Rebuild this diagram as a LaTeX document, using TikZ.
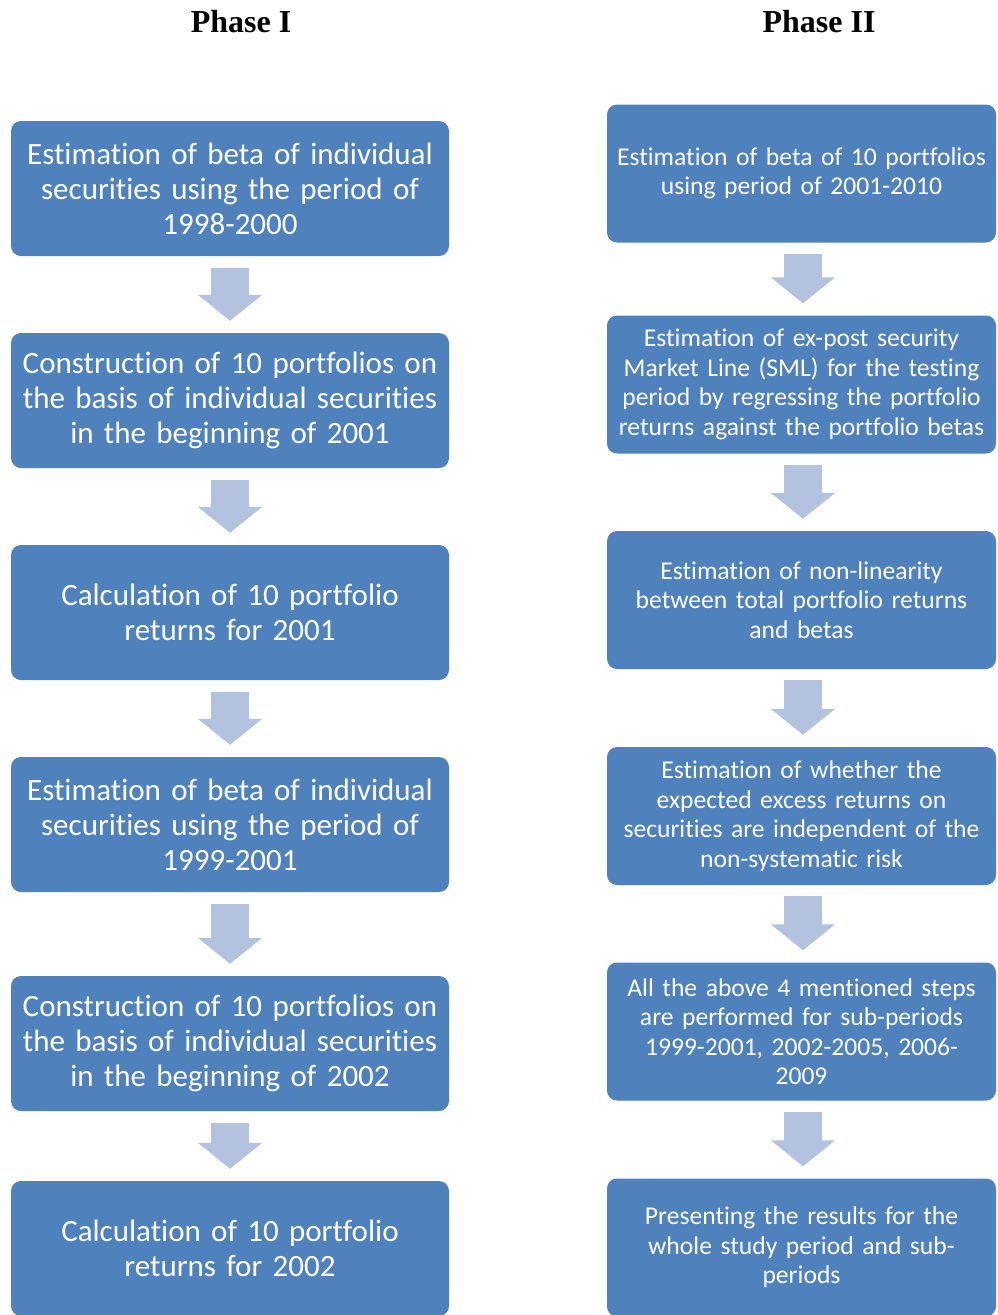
\documentclass[tikz,border=0pt]{standalone}
\usepackage{fontspec}
\setmainfont{Carlito}[Ligatures=NoCommon]
\newfontfamily\titlefont{Liberation Serif}
\usetikzlibrary{arrows.meta}

\definecolor{stepblue}{HTML}{4F81BD}
\definecolor{arrowblue}{HTML}{B3C3DF}

\begin{document}
\begin{tikzpicture}[x=1pt,y=-1pt,
  phase/.style={font=\titlefont\bfseries\fontsize{32}{36}\selectfont},
  stepbox/.style={fill=stepblue, rounded corners=10pt, text=white, align=center, inner sep=0pt},
  leftbox/.style={stepbox, minimum width=438pt, minimum height=135pt, text width=436pt,
                  font=\fontsize{31}{35}\selectfont},
  rightbox/.style={stepbox, minimum width=389pt, minimum height=138pt, text width=387pt,
                   font=\fontsize{25.6}{29.5}\selectfont},
  blockarrow/.style={draw=arrowblue, line width=38pt, -{Triangle[width=63pt,length=26pt]}}]
\useasboundingbox (0,0) rectangle (997,1315);

\node[phase] (t1) at (241,22) {Phase I};
\node[phase] (t2) at (819,22) {Phase II};

% phase I
\node[leftbox] (a1) at (230,188.5) {Estimation of beta of individual\\ securities using the period of\\ 1998-2000};
\node[leftbox] (a2) at (230,400.5) {Construction of 10 portfolios on\\ the basis of individual securities\\ in the beginning of 2001};
\node[leftbox] (a3) at (230,612.5) {Calculation of 10 portfolio\\ returns for 2001};
\node[leftbox] (a4) at (230,824.5) {Estimation of beta of individual\\ securities using the period of\\ 1999-2001};
\node[leftbox] (a5) at (230,1043.5) {Construction of 10 portfolios on\\ the basis of individual securities\\ in the beginning of 2002};
\node[leftbox] (a6) at (230,1248.5) {Calculation of 10 portfolio\\ returns for 2002};

% phase II
\node[rightbox] (b1) at (801.5,173.5) {Estimation of beta of 10 portfolios\\ using period of 2001-2010};
\node[rightbox] (b2) at (801.5,384.5) {Estimation of ex-post security\\ Market Line (SML) for the testing\\ period by regressing the portfolio\\ returns against the portfolio betas};
\node[rightbox] (b3) at (801.5,600) {Estimation of non-linearity\\ between total portfolio returns\\ and betas};
\node[rightbox] (b4) at (801.5,816) {Estimation of whether the\\ expected excess returns on\\ securities are independent of the\\ non-systematic risk};
\node[rightbox] (b5) at (801.5,1031.5) {All the above 4 mentioned steps\\ are performed for sub-periods\\ 1999-2001, 2002-2005, 2006-\\ 2009};
\node[rightbox] (b6) at (801.5,1247.5) {Presenting the results for the\\ whole study period and sub-\\ periods};

\foreach \i/\j in {1/2,2/3,3/4,4/5,5/6}{
  \path[blockarrow] ([yshift=-12pt]a\i.south) -- ([yshift=12pt]a\j.north);
  \path[blockarrow] ([xshift=1.5pt,yshift=-11pt]b\i.south) -- ([xshift=1.5pt,yshift=12pt]b\j.north);
}
\end{tikzpicture}
\end{document}
